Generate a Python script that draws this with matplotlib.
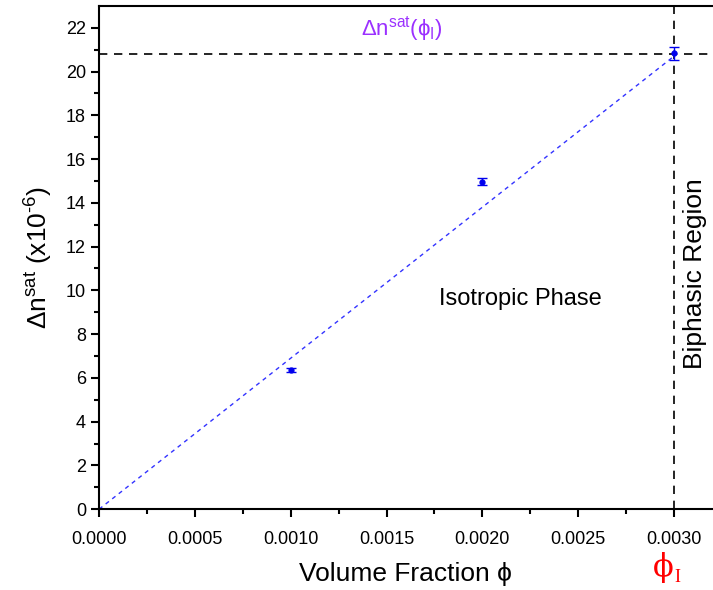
import numpy as np
import matplotlib
matplotlib.use('Agg')
import matplotlib.pyplot as plt
import matplotlib.transforms as mtransforms

plt.rcParams['font.family'] = ['Liberation Sans', 'DejaVu Sans']
plt.rcParams['mathtext.fontset'] = 'custom'
plt.rcParams['mathtext.rm'] = 'Liberation Sans'
plt.rcParams['mathtext.it'] = 'Liberation Sans:italic'

# data
phi = [0.001, 0.002, 0.003]
dn_sat = [6.36, 14.97, 20.83]
dn_err = [0.1, 0.15, 0.3]

fit_phi = [0.0, 0.003]
fit_dn = [0.0, 20.7]

phi_I = 0.003
dn_sat_I = 20.8

xticks = [0.0, 0.0005, 0.0010, 0.0015, 0.0020, 0.0025, 0.0030]
xticklabels = ['0.0000', '0.0005', '0.0010', '0.0015', '0.0020', '0.0025', '0.0030']
yticks = [0, 2, 4, 6, 8, 10, 12, 14, 16, 18, 20, 22]

fig = plt.figure(figsize=(7.13, 5.9), dpi=100)
ax = fig.add_axes([0.139, 0.137, 0.86, 0.853])

# guide lines
ax.axhline(dn_sat_I, color='black', lw=1.2, ls=(0, (5, 4)), zorder=1)
ax.axvline(phi_I, color='black', lw=1.2, ls=(0, (5, 4)), zorder=1)

# fit
ax.plot(fit_phi, fit_dn, color='#3333ff', lw=1.0, ls=(0, (3, 3)), zorder=2)

# measured points
ax.errorbar(phi, dn_sat, yerr=dn_err, fmt='o', color='#0000ee', ms=3.5,
            capsize=3.5, elinewidth=1.0, capthick=1.0, zorder=3)

ax.set_xlim(0, 0.0032)
ax.set_ylim(0, 23)
ax.set_xticks(xticks)
ax.set_xticklabels(xticklabels)
ax.set_yticks(yticks)
ax.set_xticks(np.arange(0.00025, 0.0032, 0.0005), minor=True)
ax.set_yticks(np.arange(1, 23, 2), minor=True)

ax.tick_params(which='major', direction='out', length=6, width=1.5, labelsize=13)
ax.tick_params(which='minor', direction='out', length=3.5, width=1.5)
ax.tick_params(axis='x', pad=10)

for s in ['left', 'bottom', 'top']:
    ax.spines[s].set_linewidth(1.5)
ax.spines['right'].set_visible(False)

ax.set_xlabel('Volume Fraction \u03d5', fontsize=19, labelpad=10)
ax.set_ylabel(r'$\Delta$n$^{\rm sat}$ (x10$^{\text{-6}}$)', fontsize=19, labelpad=8)

ax.text(0.0022, 9.6, 'Isotropic Phase', fontsize=17, ha='center', va='center')
ax.text(0.00311, 10.75, 'Biphasic Region', fontsize=19, rotation=90,
        ha='center', va='center')
ax.text(0.00158, 21.95, '\u0394n$^{\\rm sat}$(\u03d5$_{\\rm I}$)', fontsize=16,
        color='#9b30ff', ha='center', va='center')

trans = mtransforms.blended_transform_factory(ax.transData, ax.transAxes)
ax.text(phi_I, -0.115, '\u03d5', fontsize=22, color='red',
        ha='right', va='center', transform=trans, family='DejaVu Serif')
ax.text(phi_I, -0.135, 'I', fontsize=13, color='red',
        ha='left', va='center', transform=trans, family='Liberation Serif')

fig.savefig('out.png', dpi=100)
